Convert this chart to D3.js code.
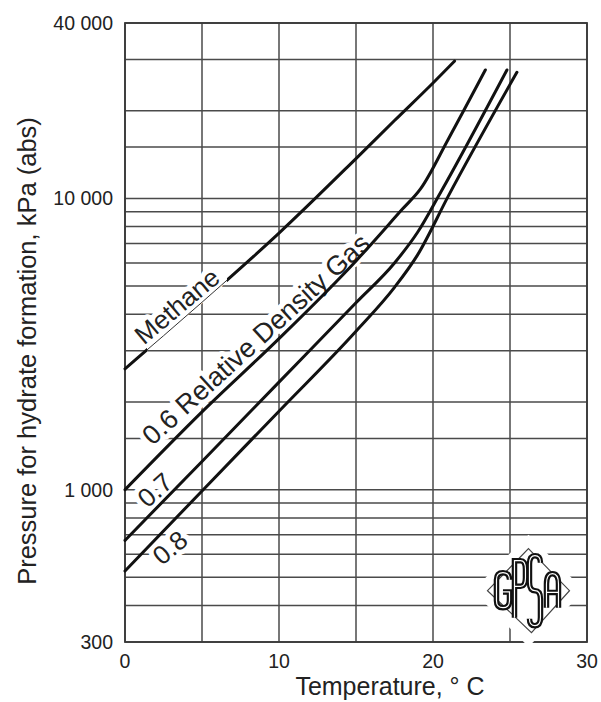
<!DOCTYPE html>
<html>
<head>
<meta charset="utf-8">
<script src="https://cdn.jsdelivr.net/npm/d3@7"></script>
<style>
  html, body { margin: 0; padding: 0; background: #fff; }
  text { font-family: "Liberation Sans", Arial, Helvetica, sans-serif; fill: #222; }
</style>
</head>
<body>
<script>
// ---------------- data ----------------
const xTicks = [0, 10, 20, 30];
const xGrid = [0, 5, 10, 15, 20, 25, 30];
const yTicks = [300, 1000, 10000, 40000];
const yTickLabels = ["300", "1 000", "10 000", "40 000"];
const yGrid = [300, 400, 500, 600, 700, 800, 900, 1000, 1500, 2000, 3000, 4000, 5000,
               6000, 7000, 8000, 9000, 10000, 15000, 20000, 30000, 40000];

const methane = [[0, 2600], [5, 4400], [10, 7600], [15, 13700], [17.5, 18500], [20, 24900], [21.4, 29600]];
const gas06   = [[0, 1000], [5, 1850], [10, 3300], [15, 6100], [18, 9170], [19.2, 10800], [21, 16000], [23.4, 27600]];
const gas07   = [[0, 670], [5, 1250], [10, 2340], [15, 4380], [17.5, 6000], [19, 7650], [20.5, 10500], [24.8, 27600]];
const gas08   = [[0, 526], [5, 990], [10, 1860], [15, 3500], [17.5, 4950], [19, 6400], [21, 10200], [25.45, 27100]];

const labelTexts = ["Methane", "0.6 Relative Density Gas", "0.7", "0.8"];
const labelT = [3.38, 8.51, 1.95, 2.92];
const labelP = [4272, 3281, 997, 632];
const labelAngle = [-40, -42.5, -42, -40];
const labelSize = [26, 27, 26, 26];

const methaneThinRange = [1.43, 6.62];
const logoAt = [26.2, 450];

// ---------------- chart ----------------
const W = 601, H = 702;
const svg = d3.select("body").append("svg").attr("width", W).attr("height", H);

const x = d3.scaleLinear().domain([0, 30]).range([125, 587]);
const y = d3.scaleLog().domain([300, 40000]).range([642, 23]);

const gridColor = "#4a4a4a";

// grid
svg.append("g").selectAll("line").data(xGrid).join("line")
  .attr("x1", d => x(d)).attr("x2", d => x(d))
  .attr("y1", y(300)).attr("y2", y(40000))
  .attr("stroke", gridColor).attr("stroke-width", 1.5);
svg.append("g").selectAll("line").data(yGrid).join("line")
  .attr("x1", x(0)).attr("x2", x(30))
  .attr("y1", d => y(d)).attr("y2", d => y(d))
  .attr("stroke", gridColor).attr("stroke-width", 1.5);

// frame
svg.append("rect")
  .attr("x", x(0)).attr("y", y(40000))
  .attr("width", x(30) - x(0)).attr("height", y(300) - y(40000))
  .attr("fill", "none").attr("stroke", "#3a3a3a").attr("stroke-width", 1.8);

// logo mask
const lx = x(logoAt[0]), ly = y(logoAt[1]);
svg.append("path")
  .attr("d", `M${lx},${ly - 56} L${lx + 56},${ly} L${lx},${ly + 56} L${lx - 56},${ly} Z`)
  .attr("fill", "#fff");

// tick labels
svg.append("g").selectAll("text").data(xTicks).join("text")
  .attr("x", d => x(d)).attr("y", 668)
  .attr("text-anchor", "middle").attr("font-size", 19.5)
  .text(d => d);
svg.append("g").selectAll("text").data(yTicks).join("text")
  .attr("x", 113).attr("y", d => y(d) + 7)
  .attr("text-anchor", "end").attr("font-size", 19.5)
  .text((d, i) => yTickLabels[i]);

// axis titles
svg.append("text").attr("x", 390).attr("y", 695)
  .attr("text-anchor", "middle").attr("font-size", 25)
  .text("Temperature, \u00B0 C");
svg.append("text")
  .attr("transform", "translate(36,351) rotate(-90)")
  .attr("text-anchor", "middle").attr("font-size", 25.5)
  .text("Pressure for hydrate formation, kPa (abs)");

// label halos (mask the grid, not the curves)
const labelG = svg.append("g");
labelTexts.forEach((t, i) => {
  labelG.append("text")
    .attr("transform", `translate(${x(labelT[i])},${y(labelP[i])}) rotate(${labelAngle[i]})`)
    .attr("text-anchor", "middle").attr("dominant-baseline", "central")
    .attr("font-size", labelSize[i])
    .attr("stroke", "#fff").attr("stroke-width", 10).attr("stroke-linejoin", "round")
    .style("fill", "#fff")
    .text(t);
});

// curves
const line = d3.line().x(d => x(d[0])).y(d => y(d[1])).curve(d3.curveMonotoneX);

const defs = svg.append("defs");
const cp = defs.append("clipPath").attr("id", "mthick");
cp.append("rect").attr("x", 0).attr("y", 0)
  .attr("width", x(methaneThinRange[0])).attr("height", H);
cp.append("rect").attr("x", x(methaneThinRange[1])).attr("y", 0)
  .attr("width", W - x(methaneThinRange[1])).attr("height", H);

svg.append("path").datum(methane).attr("d", line)
  .attr("fill", "none").attr("stroke", "#333").attr("stroke-width", 1);
svg.append("path").datum(methane).attr("d", line)
  .attr("clip-path", "url(#mthick)")
  .attr("fill", "none").attr("stroke", "#111").attr("stroke-width", 3).attr("stroke-linecap", "round");

[gas06, gas07, gas08].forEach(s => {
  svg.append("path").datum(s).attr("d", line)
    .attr("fill", "none").attr("stroke", "#111").attr("stroke-width", 3)
    .attr("stroke-linecap", "round");
});

// label text
labelTexts.forEach((t, i) => {
  labelG.append("text")
    .attr("transform", `translate(${x(labelT[i])},${y(labelP[i])}) rotate(${labelAngle[i]})`)
    .attr("text-anchor", "middle").attr("dominant-baseline", "central")
    .attr("font-size", labelSize[i])
    .text(t);
});

// logo
const logo = svg.append("g");
logo.append("path")
  .attr("d", `M${lx},${ly - 42} L${lx + 41},${ly} L${lx + 3},${ly + 42} L${lx - 41},${ly} Z`)
  .attr("fill", "#fff").attr("stroke", "#444").attr("stroke-width", 1.2);

const letters = [
  { d: "M1,0.2 Q1,0 0.5,0 Q0,0 0,0.2 L0,0.8 Q0,1 0.5,1 Q1,1 1,0.8 L1,0.55 L0.5,0.55", x0: -32, y0: -18, w: 13, h: 35 },
  { d: "M0,1 L0,0 L0.55,0 Q1,0 1,0.15 L1,0.3 Q1,0.45 0.55,0.45 L0,0.45", x0: -14, y0: -30, w: 11, h: 57 },
  { d: "M1,0.1 Q1,0 0.5,0 Q0,0 0,0.12 L0,0.38 Q0,0.5 0.5,0.5 Q1,0.5 1,0.62 L1,0.88 Q1,1 0.5,1 Q0,1 0,0.9", x0: 1, y0: -35, w: 11, h: 70 },
  { d: "M0,1 L0,0.3 Q0,0 0.5,0 Q1,0 1,0.3 L1,1 M0,0.55 L1,0.55", x0: 18, y0: -17, w: 12, h: 34 }
];
letters.forEach(L => {
  const g = logo.append("g").attr("transform", `translate(${lx + L.x0},${ly + L.y0}) scale(${L.w},${L.h})`);
  g.append("path").attr("d", L.d).attr("fill", "none").attr("stroke", "#111")
    .attr("stroke-width", 5.5).attr("vector-effect", "non-scaling-stroke");
  g.append("path").attr("d", L.d).attr("fill", "none").attr("stroke", "#fff")
    .attr("stroke-width", 1.2).attr("vector-effect", "non-scaling-stroke");
});
</script>
</body>
</html>
